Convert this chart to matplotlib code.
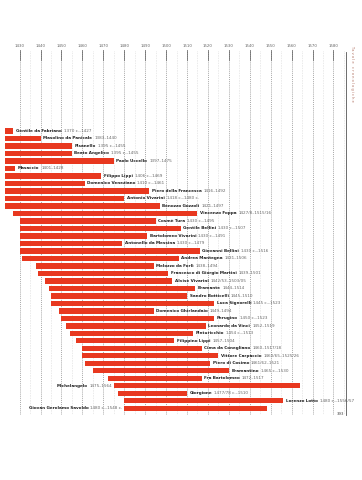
import numpy as np
import matplotlib
matplotlib.use('Agg')
import matplotlib.pyplot as plt

# Painters, life spans (numeric values for the bars) and printed dates
names = ['Gentile da Fabriano', 'Masolino da Panicale', 'Pisanello', 'Beato Angelico',
         'Paolo Uccello', 'Masaccio', 'Filippo Lippi', 'Domenico Veneziano',
         'Piero della Francesca', 'Antonio Vivarini', 'Benozzo Gozzoli', 'Vincenzo Foppa',
         'Cosmè Tura', 'Gentile Bellini', 'Bartolomeo Vivarini', 'Antonello da Messina',
         'Giovanni Bellini', 'Andrea Mantegna', 'Melozzo da Forlì',
         'Francesco di Giorgio Martini', 'Alvise Vivarini', 'Bramante', 'Sandro Botticelli',
         'Luca Signorelli', 'Domenico Ghirlandaio', 'Perugino', 'Leonardo da Vinci',
         'Pinturicchio', 'Filippino Lippi', 'Cima da Conegliano', 'Vittore Carpaccio',
         'Piero di Cosimo', 'Bramantino', 'Fra Bartolomeo', 'Michelangelo', 'Giorgione',
         'Lorenzo Lotto', 'Giovan Gerolamo Savoldo']
born = [1370, 1383, 1395, 1395, 1397, 1401, 1406, 1410, 1416, 1418, 1421, 1427,
        1430, 1430, 1430, 1430, 1430, 1431, 1438, 1439, 1442, 1444, 1445, 1445,
        1449, 1450, 1452, 1454, 1457, 1460, 1460, 1461, 1465, 1472, 1475, 1477,
        1480, 1480]
died = [1427, 1440, 1455, 1455, 1475, 1428, 1469, 1461, 1492, 1480, 1497, 1515,
        1495, 1507, 1491, 1479, 1516, 1506, 1494, 1501, 1503, 1514, 1510, 1523,
        1494, 1523, 1519, 1513, 1504, 1517, 1525, 1521, 1530, 1517, 1564, 1510,
        1556, 1548]
dates = ['1370 c.–1427', '1383–1440', '1395 c.–1455', '1395 c.–1455', '1397–1475',
         '1401–1428', '1406 c.–1469', '1410 c.–1461', '1416–1492', '1418 c.–1480 c.',
         '1421–1497', '1427/8–1515/16', '1430 c.–1495', '1430 c.–1507', '1430 c.–1491',
         '1430 c.–1479', '1430 c.–1516', '1431–1506', '1438–1494', '1439–1501',
         '1442/53–1503/05', '1444–1514', '1445–1510', '1445 c.–1523', '1449–1494',
         '1450 c.–1523', '1452–1519', '1454 c.–1513', '1457–1504', '1460–1517/18',
         '1460/65–1525/26', '1461/62–1521', '1465 c.–1530', '1472–1517', '1475–1564',
         '1477/78 c.–1510', '1480 c.–1556/57', '1480 c.–1548 c.']
left_labels = ['Michelangelo', 'Giovan Gerolamo Savoldo']
decades = list(range(1430, 1590, 10))

red = '#e8381f'
fig = plt.figure(figsize=(3.62, 4.8), dpi=100)
ax = fig.add_axes([5 / 362, 1 - 415 / 480, 340 / 362, 365 / 480])
ax.set_xlim(1423, 1585.5)
ax.set_ylim(37.9, -10.8)

# grid lines: decades and half decades
for d in decades:
    ax.axvline(d, color='#8a8a8a', lw=0.5, ls=(0, (1.5, 1.5)), zorder=0)
    ax.axvline(d + 5, color='#c0c0c0', lw=0.4, ls=(0, (1, 2)), zorder=0)
    ax.plot([d, d], [-10.8, -9.4], color='#666666', lw=0.55, zorder=1)

y = np.arange(len(names))
ax.barh(y, np.array(died) - np.array(born), left=born, height=0.72,
        color=red, zorder=2)

for i, n in enumerate(names):
    if n in left_labels:
        t = ax.text(born[i] - 0.8, i, dates[i], fontsize=3.0, color='#666666',
                    ha='right', va='center', zorder=3)
        ax.annotate(n, xy=(0, 0.5), xycoords=t, xytext=(-1.5, 0),
                    textcoords='offset points', fontsize=3.0, fontweight='bold',
                    color='#1e1e1e', ha='right', va='center', zorder=3)
    else:
        t = ax.text(died[i] + 1.2, i, n, fontsize=3.0, fontweight='bold',
                    color='#1e1e1e', ha='left', va='center', zorder=3,
                    clip_on=False)
        ax.annotate(dates[i], xy=(1, 0.5), xycoords=t, xytext=(1.5, 0),
                    textcoords='offset points', fontsize=3.0, color='#666666',
                    ha='left', va='center', zorder=3, annotation_clip=False)

ax.set_xticks(decades)
ax.set_xticklabels([str(d) for d in decades], fontsize=2.8, color='#666666')
ax.xaxis.tick_top()
ax.tick_params(axis='x', length=0, pad=1.5)
ax.set_yticks([])
for s in ax.spines.values():
    s.set_visible(False)

# right margin: vertical rule, running title and page number
fig.add_artist(plt.Line2D([346 / 362, 346 / 362], [1 - 52 / 480, 1 - 415 / 480],
                          color='#555555', lw=0.6))
fig.text(352 / 362, 1 - 45 / 480, 'T a v o l e   c r o n o l o g i c h e',
         rotation=270, fontsize=2.6, color='#b07060', ha='center', va='top')
fig.text(340 / 362, 1 - 414 / 480, '393', fontsize=2.8, color='#444444',
         ha='center', va='center')

fig.savefig('out.png', dpi=100, facecolor='white')
